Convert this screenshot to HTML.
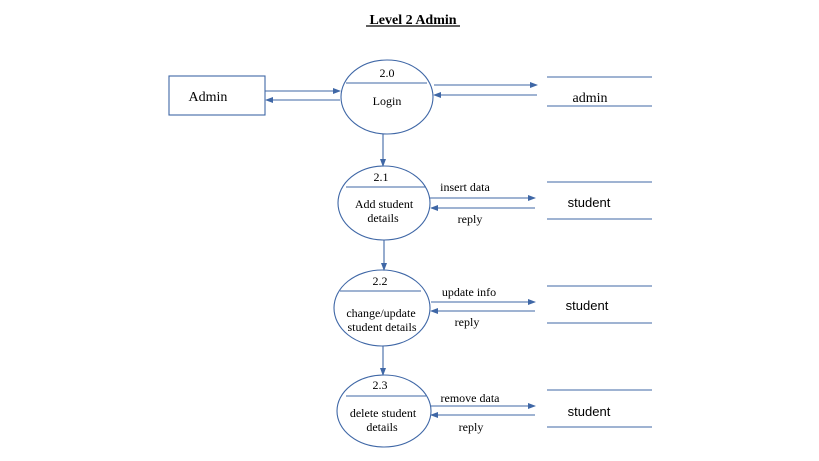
<!DOCTYPE html>
<html><head><meta charset="utf-8"><style>
html,body{margin:0;padding:0;background:#fff;}
svg{display:block;}
text{font-family:"Liberation Serif",serif;fill:#000;}
</style></head><body>
<svg width="819" height="461" viewBox="0 0 819 461" xmlns="http://www.w3.org/2000/svg">
<defs>
<marker id="a" markerWidth="8" markerHeight="6" refX="7" refY="3" orient="auto" markerUnits="userSpaceOnUse">
<path d="M0,0 L8,3 L0,6 z" fill="#3f67a6"/></marker>
</defs>
<text x="413" y="24" font-size="14" font-weight="bold" text-anchor="middle">Level 2 Admin</text>
<line x1="366" y1="26" x2="460" y2="26" stroke="#000" stroke-width="1.2"/>
<g fill="none" stroke="#3f67a6" stroke-width="1.1">
<rect x="169" y="76" width="96" height="39"/>
<ellipse cx="387" cy="97" rx="46" ry="37"/>
<line x1="346" y1="83" x2="427" y2="83"/>
<ellipse cx="384" cy="203" rx="46" ry="37"/>
<line x1="346" y1="187" x2="426" y2="187"/>
<ellipse cx="382" cy="308" rx="48" ry="38"/>
<line x1="340" y1="291" x2="421" y2="291"/>
<ellipse cx="384" cy="411" rx="47" ry="36"/>
<line x1="346" y1="396" x2="426" y2="396"/>
<line x1="547" y1="77" x2="652" y2="77"/><line x1="547" y1="106" x2="652" y2="106"/>
<line x1="547" y1="182" x2="652" y2="182"/><line x1="547" y1="219" x2="652" y2="219"/>
<line x1="547" y1="286" x2="652" y2="286"/><line x1="547" y1="323" x2="652" y2="323"/>
<line x1="547" y1="390" x2="652" y2="390"/><line x1="547" y1="427" x2="652" y2="427"/>
<g marker-end="url(#a)">
<line x1="265" y1="91" x2="340" y2="91"/>
<line x1="340" y1="100" x2="266" y2="100"/>
<line x1="434" y1="85" x2="537" y2="85"/>
<line x1="537" y1="95" x2="434" y2="95"/>
<line x1="430" y1="198" x2="535" y2="198"/>
<line x1="535" y1="208" x2="431" y2="208"/>
<line x1="431" y1="302" x2="535" y2="302"/>
<line x1="535" y1="311" x2="431" y2="311"/>
<line x1="431" y1="406" x2="535" y2="406"/>
<line x1="535" y1="415" x2="431" y2="415"/>
<line x1="383" y1="134" x2="383" y2="166"/>
<line x1="384" y1="240" x2="384" y2="270"/>
<line x1="383" y1="346" x2="383" y2="375"/>
</g>
</g>
<g font-size="12" text-anchor="middle">
<text x="387" y="77">2.0</text>
<text x="387" y="105">Login</text>
<text x="381" y="181">2.1</text>
<text x="384" y="208">Add student</text>
<text x="383" y="222">details</text>
<text x="380" y="285">2.2</text>
<text x="381" y="317">change/update</text>
<text x="382" y="331">student details</text>
<text x="380" y="389">2.3</text>
<text x="383" y="417">delete student</text>
<text x="382" y="431">details</text>
<text x="465" y="191">insert data</text>
<text x="470" y="223">reply</text>
<text x="469" y="296">update info</text>
<text x="467" y="326">reply</text>
<text x="470" y="402">remove data</text>
<text x="471" y="431">reply</text>
</g>
<g font-size="14" text-anchor="middle">
<text x="208" y="101">Admin</text>
<text x="590" y="102">admin</text>
</g>
<g font-size="13" text-anchor="middle" style="font-family:'Liberation Sans',sans-serif">
<text x="589" y="207" style="font-family:'Liberation Sans',sans-serif">student</text>
<text x="587" y="310" style="font-family:'Liberation Sans',sans-serif">student</text>
<text x="589" y="416" style="font-family:'Liberation Sans',sans-serif">student</text>
</g>
</svg>
</body></html>
